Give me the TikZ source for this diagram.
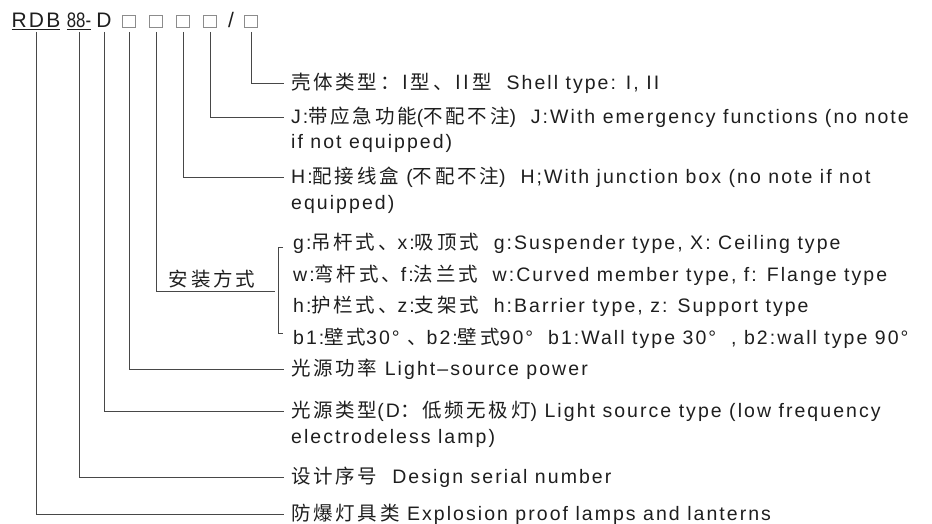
\documentclass[tikz,border=0pt]{standalone}
\usepackage{fontspec}
\usepackage{graphicx}
\setmainfont[LetterSpace=10.5]{Liberation Sans}
\newfontfamily\cjk[LetterSpace=14]{Noto Sans CJK SC}
\usetikzlibrary{calc}
\definecolor{ink}{HTML}{1E1E1E}
\definecolor{rule}{HTML}{474747}
\tikzset{codepart/.style={inner sep=0pt, anchor=base, text=ink, font=\fontsize{21}{25}\selectfont},
  slot/.style={draw=black!45, line width=0.7pt, minimum size=12.5pt, inner sep=0pt},
  entry/.style={anchor=base west, inner xsep=7pt, inner ysep=0pt, align=left, text=ink, font=\fontsize{19.5}{25.5}\selectfont},
  lead/.style={draw=rule, line width=0.9pt}}

\begin{document}
\begin{tikzpicture}[x=1pt, y=-1pt]
  \useasboundingbox (0,0) rectangle (932,524);
  % model code
  \node at (36,28) [codepart] (c1) {\underline{RDB}};
  \node at (79,28) [codepart] (c2) {\underline{\scalebox{0.8}[1]{\addfontfeatures{LetterSpace=0}88-}}};
  \node at (104,28) [codepart] (c3) {D};
  \node at (231,28) [codepart] (slash) {/};
  \foreach \x / \n in {129/4, 156/5, 183/6, 210/7, 251/8} {
    \node at (\x,21.5) [slot] (c\n) {};
  }
  \coordinate (top) at (0,32);

  % descriptions (two-line ones sit on their last line)
  \node at (284,89.5) [entry] (l8) {{\cjk 壳体类型：I型、II型}\ \ Shell type: I, II};
  \node at (284,149) [entry] (l7) {J:{\cjk 带应急功能}({\cjk 不配不注})\ \ J:With emergency functions (no note\\if not equipped)};
  \node at (284,209) [entry] (l6) {H:{\cjk 配接线盒} ({\cjk 不配不注})\ \ H;With junction box (no note if not\\equipped)};
  \node at (284,375.5) [entry] (l4) {{\cjk 光源功率} Light–source power};
  \node at (284,443) [entry] (l3) {{\cjk 光源类型}(D{\cjk ：低频无极灯}) Light source type (low frequency\\electrodeless lamp)};
  \node at (284,483.5) [entry] (l2) {{\cjk 设计序号}\ \ Design serial number};
  \node at (284,520.5) [entry] (l1) {{\cjk 防爆灯具类} Explosion proof lamps and lanterns};

  % mounting
  \node at (212,279) [text=ink, font=\fontsize{19.5}{25}\selectfont\cjk] (mount) {安装方式};
  \node at (283,249.5) [entry, inner xsep=10pt] (m1) {g:{\cjk 吊杆式、}x:{\cjk 吸顶式}\ \ g:Suspender type, X: Ceiling type};
  \node at (283,281.2) [entry, inner xsep=10pt] (m2) {w:{\cjk 弯杆式、}f:{\cjk 法兰式}\ \ w:Curved member type, f: Flange type};
  \node at (283,312.8) [entry, inner xsep=10pt] (m3) {h:{\cjk 护栏式、}z:{\cjk 支架式}\ \ h:Barrier type, z: Support type};
  \node at (283,344.5) [entry, inner xsep=10pt] (m4) {b1:{\cjk 壁式}30° {\cjk 、}b2:{\cjk 壁式}90°\ \ b1:Wall type 30°\ \ , b2:wall type 90°};
  \coordinate (fork) at (275,291);

  \foreach \n / \dy in {1/6.5, 2/6.5, 3/32, 4/6.5, 6/32, 7/32, 8/6.5} {
    \draw[lead] (c\n |- top) |- ([yshift=\dy pt]l\n.base west);
  }
  \draw[lead] (c5 |- top) |- (fork);
  \draw[lead] ([yshift=2pt]m1.base west) -- ++(-5pt,0) |- ([yshift=11pt]m4.base west);
\end{tikzpicture}
\end{document}
